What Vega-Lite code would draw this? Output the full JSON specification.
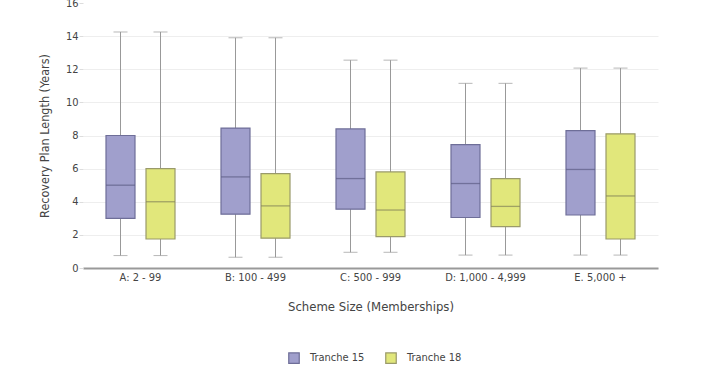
{
  "$schema": "https://vega.github.io/schema/vega-lite/v6.json",
  "autosize": "none",
  "width": 575,
  "height": 265,
  "padding": {"left": 83, "top": 3, "right": 62, "bottom": 102},
  "background": "white",
  "config": {
    "font": "DejaVu Sans Condensed, DejaVu Sans",
    "view": {"stroke": null},
    "axis": {"labelColor": "#444", "titleColor": "#444", "titleFontWeight": "normal", "labelFontSize": 11, "titleFontSize": 12.5},
    "axisY": {"tickCount": 10, "labelOverlap": false, "domain": false, "ticks": true, "tickColor": "#dddddd", "tickSize": 4, "gridColor": "#eeeeee", "labelPadding": 1, "titlePadding": 14}
  },
  "data": {"values": [
    {"group": "A: 2 - 99", "tranche": "Tranche 15", "min": 0.75, "q1": 3.0, "median": 5.0, "q3": 8.0, "max": 14.25},
    {"group": "A: 2 - 99", "tranche": "Tranche 18", "min": 0.75, "q1": 1.75, "median": 4.0, "q3": 6.0, "max": 14.25},
    {"group": "B: 100 - 499", "tranche": "Tranche 15", "min": 0.65, "q1": 3.25, "median": 5.5, "q3": 8.45, "max": 13.9},
    {"group": "B: 100 - 499", "tranche": "Tranche 18", "min": 0.65, "q1": 1.8, "median": 3.75, "q3": 5.7, "max": 13.9},
    {"group": "C: 500 - 999", "tranche": "Tranche 15", "min": 0.95, "q1": 3.55, "median": 5.4, "q3": 8.4, "max": 12.55},
    {"group": "C: 500 - 999", "tranche": "Tranche 18", "min": 0.95, "q1": 1.9, "median": 3.5, "q3": 5.8, "max": 12.55},
    {"group": "D: 1,000 - 4,999", "tranche": "Tranche 15", "min": 0.78, "q1": 3.05, "median": 5.1, "q3": 7.45, "max": 11.15},
    {"group": "D: 1,000 - 4,999", "tranche": "Tranche 18", "min": 0.78, "q1": 2.5, "median": 3.72, "q3": 5.4, "max": 11.15},
    {"group": "E. 5,000 +", "tranche": "Tranche 15", "min": 0.78, "q1": 3.2, "median": 5.95, "q3": 8.3, "max": 12.07},
    {"group": "E. 5,000 +", "tranche": "Tranche 18", "min": 0.78, "q1": 1.75, "median": 4.35, "q3": 8.1, "max": 12.07}
  ]},
  "encoding": {
    "x": {
      "field": "group", "type": "nominal",
      "scale": {"paddingInner": 0, "paddingOuter": 0},
      "axis": {"title": "Scheme Size (Memberships)", "labelAngle": 0, "ticks": false, "domainColor": "#999", "domainWidth": 2, "labelPadding": 3, "titlePadding": 18, "titleFontSize": 13}
    },
    "xOffset": {"field": "tranche", "type": "nominal", "scale": {"paddingInner": 0, "paddingOuter": 0.4375}}
  },
  "layer": [
    {
      "mark": {"type": "rule", "color": "#999", "strokeWidth": 1},
      "encoding": {
        "y": {"field": "min", "type": "quantitative", "scale": {"domain": [0, 16], "nice": false},
          "axis": {"title": "Recovery Plan Length (Years)", "values": [0, 2, 4, 6, 8, 10, 12, 14, 16], "tickCount": 10,
            "gridOpacity": {"condition": {"test": "datum.value >= 16", "value": 0}, "value": 1}}},
        "y2": {"field": "max"}
      }
    },
    {
      "mark": {"type": "tick", "color": "#999", "thickness": 1, "size": 14},
      "encoding": {"y": {"field": "max", "type": "quantitative"}}
    },
    {
      "mark": {"type": "tick", "color": "#999", "thickness": 1, "size": 14},
      "encoding": {"y": {"field": "min", "type": "quantitative"}}
    },
    {
      "mark": {"type": "bar", "size": 29, "strokeWidth": 1.2},
      "encoding": {
        "y": {"field": "q1", "type": "quantitative"},
        "y2": {"field": "q3"},
        "fill": {"field": "tranche", "type": "nominal", "scale": {"range": ["#a09fcc", "#e1e77b"]},
          "legend": {"title": null, "orient": "none", "direction": "horizontal", "legendX": 205, "legendY": 349, "symbolType": "square", "symbolSize": 110, "labelFontSize": 11, "labelColor": "#444", "columnPadding": 18, "labelOffset": 10, "symbolStrokeWidth": 1.2}},
        "stroke": {"field": "tranche", "type": "nominal", "scale": {"range": ["#6e6e98", "#9a9a6a"]}}
      }
    },
    {
      "mark": {"type": "tick", "thickness": 1.3, "size": 29},
      "encoding": {
        "y": {"field": "median", "type": "quantitative"},
        "color": {"field": "tranche", "type": "nominal", "scale": {"range": ["#5c5c85", "#85855a"]}, "legend": null}
      }
    }
  ]
}
